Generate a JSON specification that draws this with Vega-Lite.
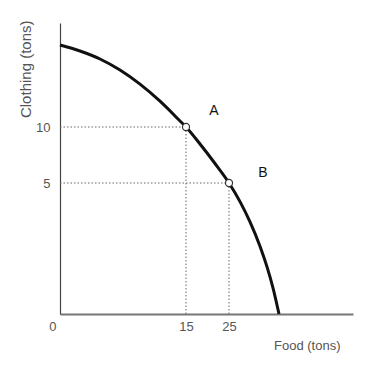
{
  "$schema": "https://vega.github.io/schema/vega-lite/v6.json",
  "width": 293,
  "height": 291,
  "autosize": {"type": "none"},
  "padding": {"left": 60, "top": 23, "right": 30, "bottom": 61},
  "background": "white",
  "config": {
    "view": {"stroke": null},
    "axis": {
      "grid": false,
      "ticks": false,
      "domainColor": "#555",
      "labelColor": "#555",
      "titleColor": "#555",
      "labelFont": "Liberation Sans",
      "titleFont": "Liberation Sans",
      "labelFontSize": 13,
      "titleFontSize": 13,
      "titleFontWeight": "normal"
    }
  },
  "datasets": {
    "curve": [
      {"food": 0, "clothing": 17.88},
      {"food": 2.381, "clothing": 17.31},
      {"food": 4.762, "clothing": 16.54},
      {"food": 7.143, "clothing": 15.48},
      {"food": 9.524, "clothing": 14.12},
      {"food": 11.905, "clothing": 12.48},
      {"food": 14.286, "clothing": 10.58},
      {"food": 15, "clothing": 10},
      {"food": 18.26, "clothing": 8.48},
      {"food": 21.74, "clothing": 6.74},
      {"food": 25, "clothing": 5},
      {"food": 26.33, "clothing": 4.29},
      {"food": 27.54, "clothing": 3.52},
      {"food": 28.75, "clothing": 2.59},
      {"food": 29.6, "clothing": 1.8},
      {"food": 30.32, "clothing": 1.0},
      {"food": 31.05, "clothing": 0}
    ],
    "points": [
      {"food": 15, "clothing": 10, "name": "A"},
      {"food": 25, "clothing": 5, "name": "B"}
    ],
    "labels": [
      {"food": 21.5, "clothing": 11.5, "name": "A"},
      {"food": 29.1, "clothing": 5.85, "name": "B"}
    ]
  },
  "encoding": {
    "x": {
      "field": "food",
      "type": "quantitative",
      "scale": {"domain": [0, 15, 25, 40], "range": [0, 126, 169, 293], "nice": false, "zero": false},
      "axis": {
        "values": [0, 15, 25],
        "title": "Food (tons)",
        "domainWidth": 2,
        "domainColor": "#777",
        "labelPadding": 6,
        "labelAlign": {"condition": {"test": "datum.value == 0", "value": "right"}, "value": "center"},
        "labelOffset": {"condition": {"test": "datum.value == 0", "value": -4}, "value": 0},
        "titleAnchor": "end",
        "titleAlign": "right",
        "titleX": 280,
        "titleY": 31,
        "titleBaseline": "middle"
      }
    },
    "y": {
      "field": "clothing",
      "type": "quantitative",
      "scale": {"domain": [0, 5, 10, 20], "range": [291, 160, 104, 0], "nice": false, "zero": false},
      "axis": {
        "values": [5, 10],
        "title": "Clothing (tons)",
        "titleFontSize": 15,
        "domainWidth": 1.2,
        "domainColor": "#444",
        "labelPadding": 10,
        "titleAnchor": "end",
        "titleAlign": "right",
        "titleX": -35,
        "titleY": -3,
        "titleBaseline": "middle"
      }
    }
  },
  "layer": [
    {
      "data": {"name": "points"},
      "mark": {"type": "rule", "color": "#666", "strokeWidth": 1, "strokeDash": [1.5, 2]},
      "encoding": {"x": {"datum": 0}, "x2": {"field": "food"}}
    },
    {
      "data": {"name": "points"},
      "mark": {"type": "rule", "color": "#666", "strokeWidth": 1, "strokeDash": [1.5, 2]},
      "encoding": {"y": {"datum": 0}, "y2": {"field": "clothing"}}
    },
    {
      "data": {"name": "curve"},
      "mark": {"type": "line", "color": "#111", "strokeWidth": 3, "interpolate": "monotone"},
      "encoding": {"order": {"field": "food", "type": "quantitative"}}
    },
    {
      "data": {"name": "points"},
      "mark": {"type": "point", "shape": "circle", "filled": true, "fill": "white", "stroke": "#333", "strokeWidth": 1.2, "size": 50, "opacity": 1}
    },
    {
      "data": {"name": "labels"},
      "mark": {"type": "text", "font": "Liberation Sans", "fontSize": 14, "color": "#111", "align": "center", "baseline": "middle"},
      "encoding": {"text": {"field": "name"}}
    }
  ]
}
